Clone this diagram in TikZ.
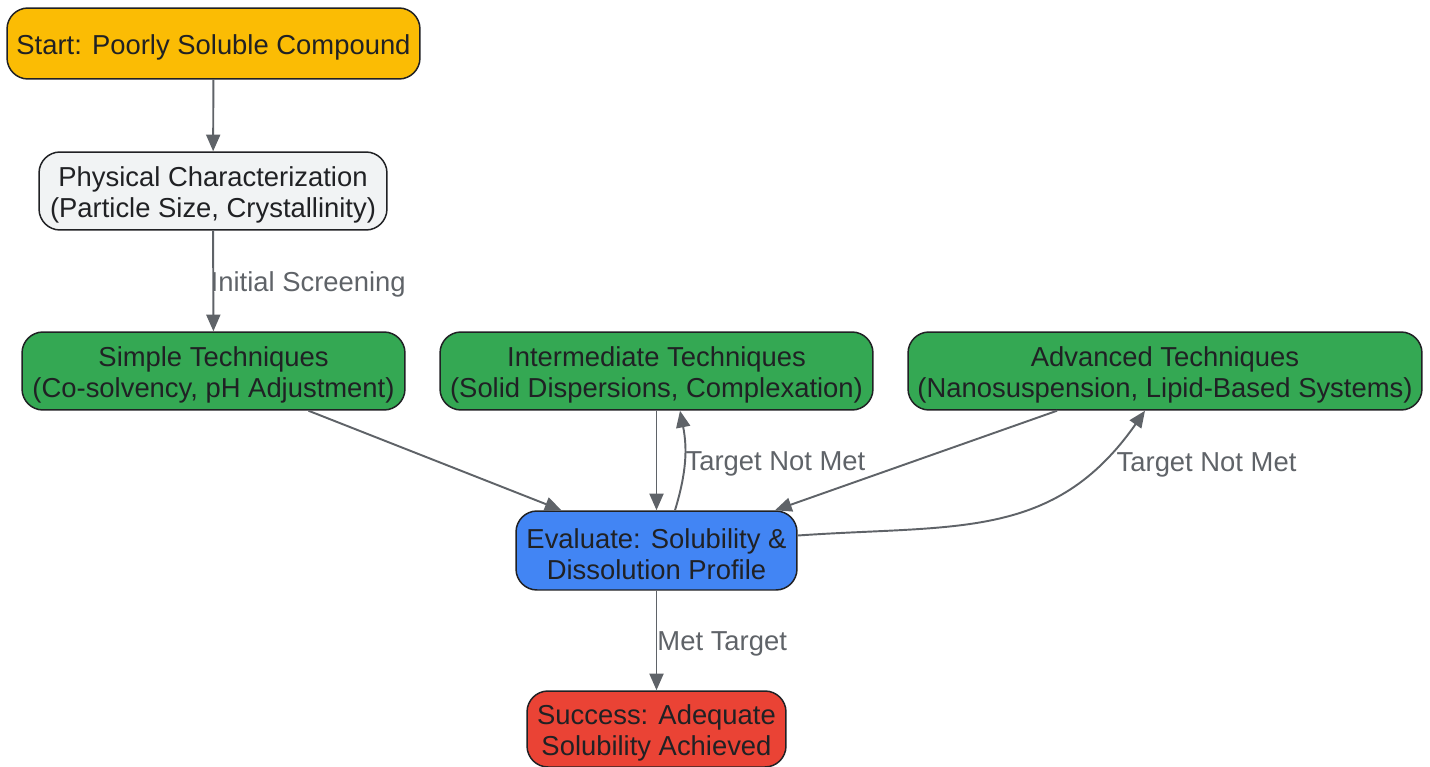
\documentclass[tikz,border=0pt]{standalone}
\usepackage{fontspec}
\setmainfont{Liberation Sans}
\usetikzlibrary{positioning, arrows.meta}

\definecolor{startc}{HTML}{FBBC04}
\definecolor{physc}{HTML}{F1F3F4}
\definecolor{techc}{HTML}{34A853}
\definecolor{evalc}{HTML}{4285F4}
\definecolor{succc}{HTML}{EA4335}
\definecolor{inkc}{HTML}{202124}
\definecolor{edgec}{HTML}{5F6368}

\newcommand{\topstrut}{\rule{0pt}{15.4pt}}

\begin{document}
\begin{tikzpicture}
        [x=0.02cm, y=-0.02cm,
         box/.style={draw=inkc, line width=0.85pt, rounded corners=0.42cm, align=center,
                     text=inkc, font=\fontsize{15.6}{17.6}\selectfont, inner sep=0pt,
                     minimum height=1.56cm},
         lbl/.style={text=edgec, font=\fontsize{15.6}{17.6}\selectfont, inner sep=0pt, anchor=west},
         arr/.style={draw=edgec, line width=1.1pt, -{Triangle[length=9.5pt, width=8pt]}}]
        \useasboundingbox (0,0) rectangle (1430,767);

        \node[box, fill=startc, minimum width=8.26cm, minimum height=1.42cm] (start) at (213.5,43.5) {\topstrut Start: Poorly Soluble Compound};
        \node[box, fill=physc, minimum width=6.96cm] (phys) at (213,191) {\topstrut Physical Characterization\\(Particle Size, Crystallinity)};
        \node[box, fill=techc, minimum width=7.66cm] (simple) at (213.5,371) {\topstrut Simple Techniques\\(Co-solvency, pH Adjustment)};
        \node[box, fill=techc, minimum width=8.66cm] (inter) at (656.5,371) {\topstrut Intermediate Techniques\\(Solid Dispersions, Complexation)};
        \node[box, fill=techc, minimum width=10.28cm] (adv) at (1165,371) {\topstrut Advanced Techniques\\(Nanosuspension, Lipid-Based Systems)};
        \node[box, fill=evalc, minimum width=5.62cm, minimum height=1.58cm] (eval) at (656.5,550.5) {\topstrut Evaluate: Solubility \&\\Dissolution Profile};
        \node[box, fill=succc, minimum width=5.18cm, minimum height=1.52cm] (succ) at (656.5,729) {\topstrut Success: Adequate\\Solubility Achieved};

        \draw[arr] (start) -- (phys);
        \draw[arr] (phys) -- node[lbl, xshift=-2pt, yshift=-2pt] {Initial Screening} (simple);
        \draw[arr] ([xshift=1.9cm]simple.south) -- ([xshift=-1.9cm]eval.north);
        \draw[arr] (inter) -- (eval);
        \draw[arr] ([xshift=0.37cm]eval.north) to[bend right=14] node[lbl, pos=0.5, xshift=0pt, yshift=-2pt] {Target Not Met} ([xshift=0.47cm]inter.south);
        \draw[arr] ([xshift=-2.16cm]adv.south) -- ([xshift=2.37cm]eval.north);
        \draw[arr] ([yshift=0.3cm]eval.east) to[out=4, in=235, looseness=1.1] node[lbl, pos=0.85, xshift=7pt, yshift=-3pt] {Target Not Met} ([xshift=-0.4cm]adv.south);
        \draw[arr] (eval) -- node[lbl, yshift=-2pt] {Met Target} (succ);
    \end{tikzpicture}
\end{document}
